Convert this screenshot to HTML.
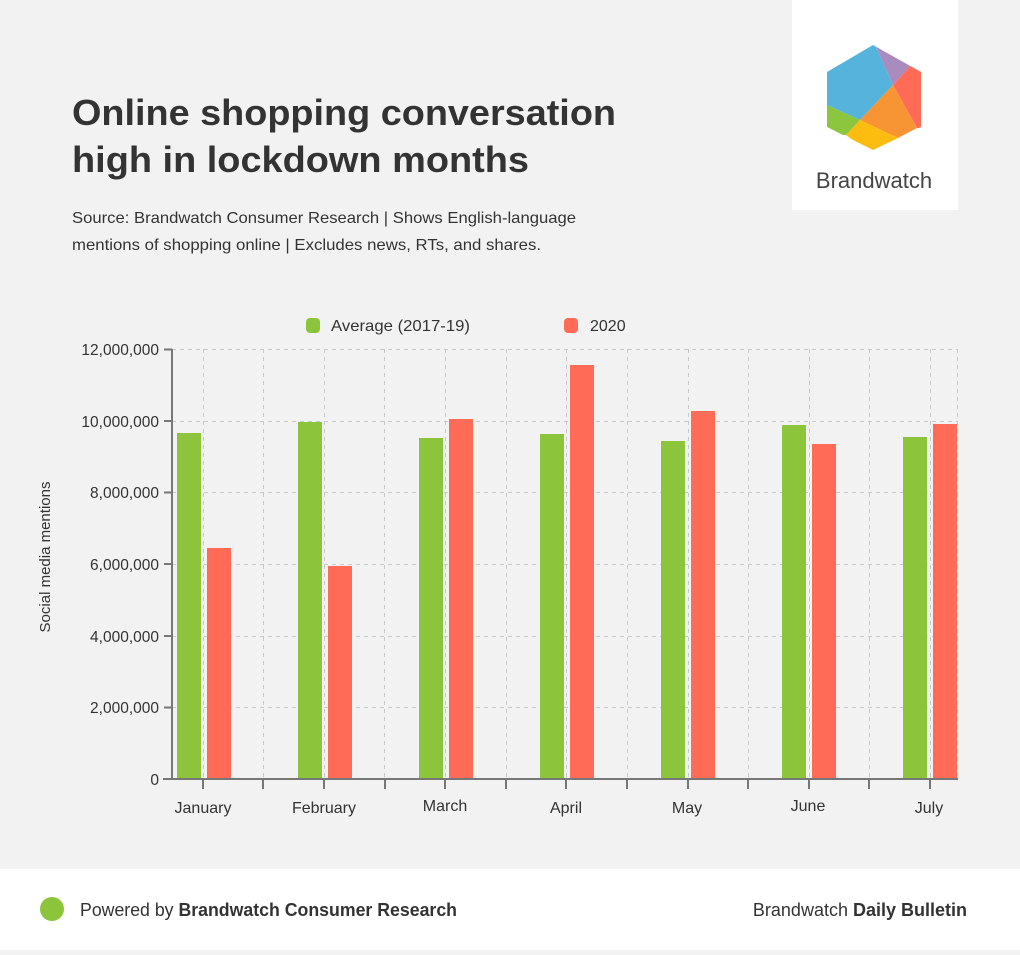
<!DOCTYPE html>
<html><head><meta charset="utf-8"><style>
html,body{margin:0;padding:0;}
body{width:1020px;height:950px;overflow:hidden;background:#f2f2f2;font-family:"Liberation Sans",Arial,sans-serif;}
</style></head><body>
<svg width="1020" height="950" viewBox="0 0 1020 950" xmlns="http://www.w3.org/2000/svg" font-family="Liberation Sans, Arial, sans-serif">
<rect x="0" y="0" width="1020" height="950" fill="#f2f2f2"/>
<rect x="792" y="0" width="166" height="210" fill="#ffffff"/>
<defs><clipPath id="hex"><polygon points="873,45 921,72 921,127 873,150 827,127 827,72"/></clipPath></defs>
<g clip-path="url(#hex)">
<polygon points="873,40 893,85 860,120 820,102 820,60" fill="#56b4dc"/>
<polygon points="873,40 912,64 893,85" fill="#a98bbd"/>
<polygon points="912,64 930,70 930,130 917,128 893,85" fill="#ff6b57"/>
<polygon points="893,85 917,128 898,138 860,120" fill="#f79433"/>
<polygon points="860,120 898,138 880,160 846,135" fill="#fdbd10"/>
<polygon points="820,102 860,120 846,135 820,135" fill="#8cc53e"/>
</g>
<text x="874" y="188" font-size="22" fill="#444" text-anchor="middle">Brandwatch</text>
<text x="72" y="125" font-size="36" font-weight="bold" fill="#333" textLength="544" lengthAdjust="spacingAndGlyphs">Online shopping conversation</text>
<text x="72" y="172" font-size="36" font-weight="bold" fill="#333" textLength="457" lengthAdjust="spacingAndGlyphs">high in lockdown months</text>
<text x="72" y="223" font-size="16" fill="#333" textLength="504" lengthAdjust="spacingAndGlyphs">Source: Brandwatch Consumer Research | Shows English-language</text>
<text x="72" y="250" font-size="16" fill="#333" textLength="469" lengthAdjust="spacingAndGlyphs">mentions of shopping online | Excludes news, RTs, and shares.</text>
<rect x="306" y="318" width="14" height="15" rx="4" fill="#8cc43c"/>
<text x="331" y="331" font-size="16" fill="#333" textLength="139" lengthAdjust="spacingAndGlyphs">Average (2017-19)</text>
<rect x="564" y="318" width="14" height="15" rx="4" fill="#ff6b57"/>
<text x="590" y="331" font-size="16" fill="#333">2020</text>
<g stroke="#c8c8c8" stroke-width="1" stroke-dasharray="4,4" fill="none">
<line x1="172" y1="349.5" x2="958" y2="349.5"/>
<line x1="172" y1="421.5" x2="958" y2="421.5"/>
<line x1="172" y1="492.5" x2="958" y2="492.5"/>
<line x1="172" y1="564.5" x2="958" y2="564.5"/>
<line x1="172" y1="636.5" x2="958" y2="636.5"/>
<line x1="172" y1="707.5" x2="958" y2="707.5"/>
<line x1="203.5" y1="349" x2="203.5" y2="779"/>
<line x1="263.5" y1="349" x2="263.5" y2="779"/>
<line x1="324.5" y1="349" x2="324.5" y2="779"/>
<line x1="384.5" y1="349" x2="384.5" y2="779"/>
<line x1="445.5" y1="349" x2="445.5" y2="779"/>
<line x1="506.5" y1="349" x2="506.5" y2="779"/>
<line x1="566.5" y1="349" x2="566.5" y2="779"/>
<line x1="627.5" y1="349" x2="627.5" y2="779"/>
<line x1="688.5" y1="349" x2="688.5" y2="779"/>
<line x1="748.5" y1="349" x2="748.5" y2="779"/>
<line x1="809.5" y1="349" x2="809.5" y2="779"/>
<line x1="869.5" y1="349" x2="869.5" y2="779"/>
<line x1="930.5" y1="349" x2="930.5" y2="779"/>
<line x1="957.5" y1="349" x2="957.5" y2="779"/>
</g>
<g fill="#8cc43c">
<rect x="177" y="433" width="24" height="346"/>
<rect x="298" y="422" width="24" height="357"/>
<rect x="419" y="438" width="24" height="341"/>
<rect x="540" y="434" width="24" height="345"/>
<rect x="661" y="441" width="24" height="338"/>
<rect x="782" y="425" width="24" height="354"/>
<rect x="903" y="437" width="24" height="342"/>
</g>
<g fill="#ff6b57">
<rect x="207" y="548" width="24" height="231"/>
<rect x="328" y="566" width="24" height="213"/>
<rect x="449" y="419" width="24" height="360"/>
<rect x="570" y="365" width="24" height="414"/>
<rect x="691" y="411" width="24" height="368"/>
<rect x="812" y="444" width="24" height="335"/>
<rect x="933" y="424" width="24" height="355"/>
</g>
<g stroke="#777" stroke-width="2" fill="none">
<line x1="172" y1="349" x2="172" y2="780"/>
<line x1="163" y1="779" x2="958" y2="779"/>
<line x1="164" y1="349.5" x2="172" y2="349.5"/>
<line x1="164" y1="421" x2="172" y2="421"/>
<line x1="164" y1="492.5" x2="172" y2="492.5"/>
<line x1="164" y1="564" x2="172" y2="564"/>
<line x1="164" y1="636" x2="172" y2="636"/>
<line x1="164" y1="707.5" x2="172" y2="707.5"/>
<line x1="203" y1="779" x2="203" y2="789"/>
<line x1="263" y1="779" x2="263" y2="789"/>
<line x1="324" y1="779" x2="324" y2="789"/>
<line x1="385" y1="779" x2="385" y2="789"/>
<line x1="445" y1="779" x2="445" y2="789"/>
<line x1="506" y1="779" x2="506" y2="789"/>
<line x1="566" y1="779" x2="566" y2="789"/>
<line x1="627" y1="779" x2="627" y2="789"/>
<line x1="688" y1="779" x2="688" y2="789"/>
<line x1="748" y1="779" x2="748" y2="789"/>
<line x1="809" y1="779" x2="809" y2="789"/>
<line x1="869" y1="779" x2="869" y2="789"/>
<line x1="930" y1="779" x2="930" y2="789"/>
</g>
<g font-size="15.5" fill="#333" text-anchor="end">
<text x="159" y="355">12,000,000</text>
<text x="159" y="427">10,000,000</text>
<text x="159" y="498">8,000,000</text>
<text x="159" y="570">6,000,000</text>
<text x="159" y="642">4,000,000</text>
<text x="159" y="713">2,000,000</text>
<text x="159" y="785">0</text>
</g>
<g font-size="16" fill="#333" text-anchor="middle">
<text x="203" y="813">January</text>
<text x="324" y="813">February</text>
<text x="445" y="811">March</text>
<text x="566" y="813">April</text>
<text x="687" y="813">May</text>
<text x="808" y="811">June</text>
<text x="929" y="813">July</text>
</g>
<text transform="translate(50,557) rotate(-90)" font-size="15" fill="#333" text-anchor="middle">Social media mentions</text>
<rect x="0" y="869" width="1020" height="81" fill="#ffffff"/>
<circle cx="52" cy="909" r="12" fill="#8cc43c"/>
<text x="80" y="916" font-size="18" fill="#333" textLength="377" lengthAdjust="spacingAndGlyphs">Powered by <tspan font-weight="bold">Brandwatch Consumer Research</tspan></text>
<text x="967" y="916" font-size="18" fill="#333" text-anchor="end">Brandwatch <tspan font-weight="bold">Daily Bulletin</tspan></text>
</svg>
</body></html>
